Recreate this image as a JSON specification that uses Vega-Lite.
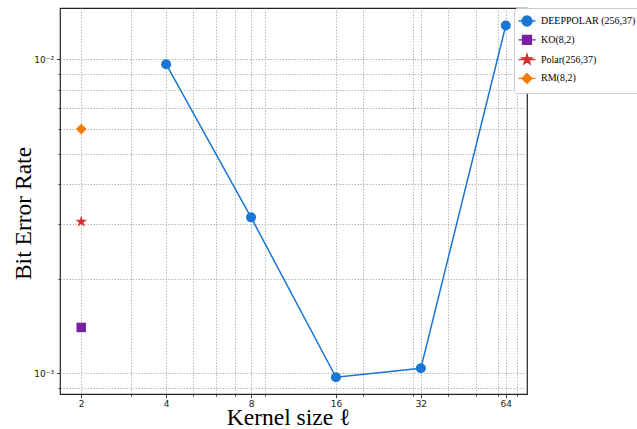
{
  "$schema": "https://vega.github.io/schema/vega-lite/v6.json",
  "width": 467,
  "height": 386,
  "autosize": {"type": "none"},
  "padding": {"left": 60, "top": 8, "right": 110, "bottom": 35},
  "background": "white",
  "config": {
    "view": {"stroke": "#222222", "strokeWidth": 1.2},
    "axis": {
      "domain": false,
      "grid": true,
      "gridColor": "#b0b0b0",
      "gridDash": [1.5, 1.5],
      "gridWidth": 0.9,
      "tickColor": "#222222",
      "tickWidth": 0.9,
      "labelFont": "DejaVu Sans",
      "labelFontSize": 9,
      "labelColor": "#222222",
      "titleFont": "Liberation Serif",
      "titleFontSize": 23.5,
      "titleFontWeight": "normal",
      "titleColor": "#000000"
    },
    "legend": {
      "orient": "none",
      "legendX": 454,
      "legendY": 0,
      "padding": 7,
      "fillColor": "white",
      "strokeColor": "#cccccc",
      "cornerRadius": 3,
      "labelFont": "Liberation Serif",
      "labelFontSize": 10,
      "labelColor": "#000000",
      "labelOffset": 8,
      "symbolSize": 100,
      "symbolOpacity": 1,
      "symbolStrokeWidth": 1.3,
      "rowPadding": 2.8
    }
  },
  "data": {
    "values": [
      {"method": "DeepPolar (256,37)", "k": 4, "ber": 0.00966},
      {"method": "DeepPolar (256,37)", "k": 8, "ber": 0.00314},
      {"method": "DeepPolar (256,37)", "k": 16, "ber": 0.000971},
      {"method": "DeepPolar (256,37)", "k": 32, "ber": 0.001037},
      {"method": "DeepPolar (256,37)", "k": 64, "ber": 0.01283},
      {"method": "KO(8,2)", "k": 2, "ber": 0.0014},
      {"method": "Polar(256,37)", "k": 2, "ber": 0.00304},
      {"method": "RM(8,2)", "k": 2, "ber": 0.006}
    ]
  },
  "encoding": {
    "x": {
      "field": "k",
      "type": "quantitative",
      "scale": {"type": "log", "base": 2, "domain": [1.6818, 76.109], "nice": false, "zero": false},
      "axis": {
        "title": "Kernel size ℓ",
        "values": [2, 3, 4, 5, 6, 7, 8, 9, 16, 20, 30, 32, 40, 50, 60, 64, 70],
        "labelExpr": "indexof([2,4,8,16,32,64], datum.value) >= 0 ? datum.label : ''",
        "format": "d",
        "tickSize": {"condition": {"test": "indexof([2,4,8,16,32,64], datum.value) >= 0", "value": 3.5}, "value": 2},
        "labelPadding": 2,
        "labelFlush": false,
        "labelOverlap": false,
        "titleX": 228,
        "titleY": 30,
        "titleBaseline": "alphabetic",
        "titleAnchor": "middle"
      }
    },
    "y": {
      "field": "ber",
      "type": "quantitative",
      "scale": {"type": "log", "domain": [0.000859, 0.01459], "nice": false, "zero": false},
      "axis": {
        "title": "Bit Error Rate",
        "values": [0.0009, 0.001, 0.002, 0.003, 0.004, 0.005, 0.006, 0.007, 0.008, 0.009, 0.01],
        "labelExpr": "datum.value === 0.01 ? '10⁻²' : (datum.value === 0.001 ? '10⁻³' : '')",
        "tickSize": {"condition": {"test": "datum.value === 0.01 || datum.value === 0.001", "value": 3.5}, "value": 2},
        "labelPadding": 3,
        "labelOverlap": false,
        "titleX": -30,
        "titleY": 205,
        "titleBaseline": "alphabetic",
        "titleAngle": -90,
        "titleAlign": "center"
      }
    }
  },
  "resolve": {"scale": {"color": "independent", "fill": "independent", "stroke": "independent", "shape": "independent", "size": "independent"}},
  "layer": [
    {
      "transform": [{"filter": "datum.method === 'DeepPolar (256,37)'"}],
      "mark": {"type": "line", "color": "#1976D2", "strokeWidth": 1.5},
      "encoding": {}
    },
    {
      "mark": {"type": "point", "filled": true, "opacity": 1},
      "encoding": {
        "color": {
          "field": "method",
          "type": "nominal",
          "scale": {
            "domain": ["DeepPolar (256,37)", "KO(8,2)", "Polar(256,37)", "RM(8,2)"],
            "range": ["#1976D2", "#7B1FA2", "#D32F2F", "#F57C00"]
          },
          "legend": null
        },
        "shape": {
          "field": "method",
          "type": "nominal",
          "scale": {
            "domain": ["DeepPolar (256,37)", "KO(8,2)", "Polar(256,37)", "RM(8,2)"],
            "range": ["circle", "square", "M0,-1L0.225,-0.309L0.951,-0.309L0.363,0.118L0.588,0.809L0,0.382L-0.588,0.809L-0.363,0.118L-0.951,-0.309L-0.225,-0.309Z", "diamond"]
          },
          "legend": null
        },
        "size": {
          "field": "method",
          "type": "nominal",
          "scale": {
            "type": "ordinal",
            "domain": ["DeepPolar (256,37)", "KO(8,2)", "Polar(256,37)", "RM(8,2)"],
            "range": [100, 90, 150, 115]
          },
          "legend": null
        }
      }
    },
    {
      "mark": {"type": "point", "opacity": 0, "strokeWidth": 1.3},
      "encoding": {
        "fill": {
          "field": "method",
          "type": "nominal",
          "scale": {
            "domain": ["DeepPolar (256,37)", "KO(8,2)", "Polar(256,37)", "RM(8,2)"],
            "range": ["#1976D2", "#7B1FA2", "#D32F2F", "#F57C00"]
          },
          "legend": {
            "title": null,
            "labelExpr": "datum.label === 'DeepPolar (256,37)' ? 'DEEPPOLAR (256,37)' : datum.label"
          }
        },
        "stroke": {
          "field": "method",
          "type": "nominal",
          "scale": {
            "domain": ["DeepPolar (256,37)", "KO(8,2)", "Polar(256,37)", "RM(8,2)"],
            "range": ["#1976D2", "#7B1FA2", "#D32F2F", "#F57C00"]
          },
          "legend": {
            "title": null,
            "labelExpr": "datum.label === 'DeepPolar (256,37)' ? 'DEEPPOLAR (256,37)' : datum.label"
          }
        },
        "shape": {
          "field": "method",
          "type": "nominal",
          "scale": {
            "domain": ["DeepPolar (256,37)", "KO(8,2)", "Polar(256,37)", "RM(8,2)"],
            "range": [
              "M-1.7,0H1.7M1,0A1,1 0 1,1 -1,0A1,1 0 1,1 1,0Z",
              "M-1.7,0H1.7M-0.9,-0.9H0.9V0.9H-0.9Z",
              "M-1.7,0H1.7M0,-1.1L0.247,-0.34L1.046,-0.34L0.4,0.13L0.647,0.89L0,0.42L-0.647,0.89L-0.4,0.13L-1.046,-0.34L-0.247,-0.34Z",
              "M-1.7,0H1.7M0,-1L1,0L0,1L-1,0Z"
            ]
          },
          "legend": {
            "title": null,
            "labelExpr": "datum.label === 'DeepPolar (256,37)' ? 'DEEPPOLAR (256,37)' : datum.label"
          }
        }
      }
    }
  ]
}
